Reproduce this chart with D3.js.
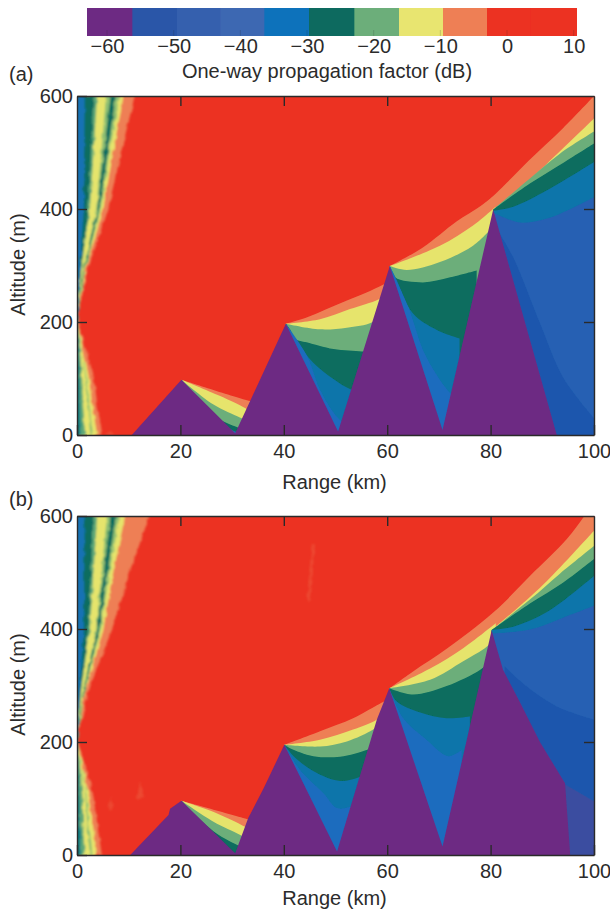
<!DOCTYPE html>
<html><head><meta charset="utf-8">
<script src="https://cdnjs.cloudflare.com/ajax/libs/d3/7.8.5/d3.min.js"></script>
<style>
html,body{margin:0;padding:0;background:#fff}
svg{display:block}
text{font-family:"Liberation Sans",Arial,sans-serif;fill:#2b2b2b}
</style></head><body>
<script>
// ---- colour bar data (dB)
const barEdges=[-63,-56.2,-49.5,-43,-36.4,-29.7,-22.9,-16.2,-9.6,-3,3.5,10.5];
const barTicks=[-60,-50,-40,-30,-20,-10,0,10];
// ---- axis ticks
const rangeTicks=[0,20,40,60,80,100];
const altTicks=[0,200,400,600];

// ---- terrain ridges [range km, altitude m]
const ridgeA=[[10.6,0],[20.2,98],[30.6,3],[40.4,197],[50.5,6],[60.5,299],[70.7,9],[80.5,399],[92.8,0],[100,0]];
const ridgeB=[[10.3,0],[17.7,71],[18,82],[20.2,96],[30.6,3],[33.1,65],[36.1,118],[40.1,195],[50.3,6],[58,240],[60.4,295],[70.7,15],[80.2,398],[82.4,328],[85.7,270],[89.6,199],[94.4,127],[95.4,0],[100,0]];

// ---- contours panel (a)
const zoneA20=[
 [[20.2,98],[33.5,60],[36,55]],
 [[20.2,98],[27.7,69],[32.5,48],[34,40]],
 [[20.2,98],[26.4,54],[31.5,31],[33,25]],
 [[20.2,98],[22.2,75],[27,31],[30.9,14],[32,10]],
 [[20.2,98],[24.4,48],[30.6,6],[31.5,3]]];
const zoneA40=[
 [[40.4,197],[44.4,208],[48.3,223],[52.2,238],[56,252],[59,265],[61,272]],
 [[40.4,197],[47,205],[52.8,223],[58.3,240],[60,250]],
 [[40.4,197],[47,187],[52.2,190],[57,199],[59,215]],
 [[40.4,197],[41.2,187],[42.2,170],[44.4,164],[49.6,152],[55.1,148],[57,148]],
 [[40.4,197],[42.2,170],[45.7,128],[49.6,99],[52.9,81],[55,78]],
 [[40.4,197],[44.5,140],[47,80],[50,35],[53,10]]];
const redEdgeA=[[60.5,299],[66.9,332],[73.4,378],[78,405],[80.5,423],[87.3,485],[94,543],[100,600]];
const zoneA60=[
 [[60.5,299],[70.2,335],[76.6,371],[80.2,398],[81,404]],
 [[60.5,299],[63.8,292],[70.2,306],[76.6,335],[79.6,360]],
 [[60.5,299],[61.5,279],[66.9,270],[72.2,279],[77.3,291]],
 [[60.5,299],[61.5,281],[65,215],[69.6,186],[74,171]],
 [[60.5,299],[64.1,226],[67.3,143],[71.8,78],[74,60]]];
const zoneA80=[
 [[80.5,399],[85.7,437],[90.9,480],[100,560]],
 [[80.5,399],[87.6,454],[93.4,498],[100,537]],
 [[80.5,399],[87.6,445],[94.1,482],[100,516]],
 [[80.5,397],[84.4,404],[90.9,433],[100,483]],
 [[80.5,394],[85.7,376],[90.9,383],[94.7,397],[100,421]],
 [[81.5,360],[84.4,314],[89.6,197],[94.1,101],[100,30]]];

// ---- contours panel (b)
const zoneB20=[
 [[20.2,96],[33.5,62],[36,55]],
 [[20.2,96],[27,74],[32.5,50],[34,42]],
 [[20.2,96],[26.4,59],[31.5,36],[33,28]],
 [[20.2,96],[22.2,77],[27,38],[30.9,18],[32,14]],
 [[20.2,96],[24.4,47],[30,5],[31,3]]];
const zoneB40=[
 [[40.1,195],[47,219],[53.4,242],[58,265],[60,275]],
 [[40.1,195],[47,204],[53.4,222],[58,240],[59.5,255]],
 [[40.1,195],[47,192],[52.2,201],[57.3,222],[59,235]],
 [[40.1,195],[41.2,189],[45.7,175],[50.9,174],[56,186],[57,190]],
 [[40.1,195],[42.2,172],[46.4,145],[50.9,131],[54.4,137],[56,145]],
 [[40.1,195],[43.1,151],[47.7,109],[50.3,83],[53.2,86],[55,90]]];
const redEdgeB=[[60.4,295],[65,325],[71.5,365],[80.5,429],[87.6,494],[94.7,559],[98.2,601],[100,625]];
const zoneB60=[
 [[60.4,295],[68.3,330],[74.7,366],[79.9,402],[81,410]],
 [[60.4,295],[68.3,310],[74.7,343],[78.6,364],[80,375]],
 [[60.4,295],[65,284],[71.5,299],[78,328],[79.5,340]],
 [[60.4,295],[61.8,272],[66.4,252],[71.5,242],[76,245]],
 [[60.4,295],[63.1,242],[67.6,204],[71.8,175],[74.4,186]]];
const zoneB80=[
 [[80.2,398],[85.7,441],[90.9,485],[100,574]],
 [[80.2,398],[87.6,452],[93.4,498],[100,547]],
 [[80.2,398],[87.6,445],[94,482],[100,524]],
 [[80.2,398],[84.4,404],[90.9,430],[100,494]],
 [[80.2,392],[87.6,399],[94,420],[100,441]],
 [[82.7,334],[86.9,299],[92.8,263],[100,240]],
 [[94,127],[100,95]]];

// ---- near-field interference fringes, listed outermost first
const fringeTopA=[
 [[0,205],[2,290],[6.05,400],[8.5,500],[11.2,600]],
 [[0,205],[1.6,290],[5.1,400],[7,500],[9,600]],
 [[0,205],[1.45,290],[4.6,400],[6.3,500],[8.2,600]],
 [[0,205],[1.35,290],[4.3,400],[5.9,500],[7.5,600]],
 [[0,205],[1.2,290],[3.95,400],[5.2,500],[6.5,600]],
 [[0,205],[1.1,290],[3.7,400],[4.7,500],[5.6,600]],
 [[0,205],[.8,290],[2.5,400],[3.2,500],[3.9,600]],
 [[0,205],[.7,290],[2.2,400],[2.7,500],[3.2,600]],
 [[0,205],[.5,290],[1.35,400],[1.4,500],[1.5,600]]];
const fringeLowA=[
 [[0,205],[1.6,155],[3.15,108],[4,50],[4.9,0]],
 [[0,205],[1.1,155],[2.2,108],[3,50],[3.9,0]],
 [[0,205],[.9,155],[1.75,108],[2.4,50],[3.1,0]],
 [[0,205],[.8,155],[1.55,108],[2,50],[2.6,0]],
 [[0,205],[.5,155],[.95,108],[1.2,50],[1.6,0]],
 [[0,205],[.2,155],[.45,108],[.6,50],[.7,0]]];
const fringeTopB=[
 [[0,205],[2.2,290],[6.8,400],[10.2,500],[14,600]],
 [[0,205],[1.6,290],[5.1,400],[7,500],[9.3,600]],
 [[0,205],[1.45,290],[4.6,400],[6.3,500],[8.2,600]],
 [[0,205],[1.35,290],[4.3,400],[5.9,500],[7.5,600]],
 [[0,205],[1.2,290],[3.95,400],[5.2,500],[6.5,600]],
 [[0,205],[1.1,290],[3.7,400],[4.7,500],[5.8,600]],
 [[0,205],[.8,290],[2.5,400],[3.2,500],[3.9,600]],
 [[0,205],[.7,290],[2.2,400],[2.7,500],[3.2,600]],
 [[0,205],[.5,290],[1.35,400],[1.4,500],[1.5,600]]];
const fringeLowB=[
 [[0,205],[1.7,155],[3.1,108],[4,50],[4.8,0]],
 [[0,205],[1.2,155],[2.2,108],[3.1,50],[3.9,0]],
 [[0,205],[.95,155],[1.8,108],[2.4,50],[3,0]],
 [[0,205],[.85,155],[1.6,108],[2,50],[2.5,0]],
 [[0,205],[.6,155],[1.05,108],[1.2,50],[1.5,0]],
 [[0,205],[.2,155],[.45,108],[.6,50],[.7,0]]];
// ---- small lighter patches inside the red region
const flecksA=[[[5.6,0],[6.4,8],[7.3,0]]];
const flecksB=[[[6,80],[6.6,105],[7,80]],[[11.6,100],[12.2,130],[12.9,100]],[[44.5,450],[45.4,550],[46,550],[45.2,450]]];

// ---- colours
const PURPLE='#6d2a83',RED='#ec3023';
const barColors=[PURPLE,'#2a56a8','#3460ae','#3e67b2','#1172bb','#076b5f','#6cae7a','#e8e56f','#ee7f55',RED,RED];
const bandFills=['#ee7f55','#e6e46c','#6cae7a','#076d5e','#0c74aa','#1d6cbe','#2561b3','#1e57ad','#3a4ea0'];
const fringeFills=['#ee7f55','#e6e46c','#8fbf72','#076d5e','#8fbf72','#e6e46c','#5fa878','#076d5e','#1272b4'];
const fringeLowFills=['#ee7f55','#e6e46c','#8fbf72','#e6e46c','#5fa878','#0c7a80'];

const W=610,H=912,FS=20;
const svg=d3.select('body').append('svg').attr('width',W).attr('height',H);
const defs=svg.append('defs');
const soft=defs.append('filter').attr('id','soft').attr('x','-2%').attr('y','-2%').attr('width','104%').attr('height','104%');
soft.append('feGaussianBlur').attr('stdDeviation',0.6);
const rough=defs.append('filter').attr('id','rough').attr('x','-5%').attr('y','-5%').attr('width','110%').attr('height','110%');
rough.append('feTurbulence').attr('type','fractalNoise').attr('baseFrequency','0.22 0.14').attr('numOctaves',2).attr('seed',4).attr('result','n');
rough.append('feDisplacementMap').attr('in','SourceGraphic').attr('in2','n').attr('scale',4).attr('xChannelSelector','R').attr('yChannelSelector','G');
rough.append('feGaussianBlur').attr('stdDeviation',1);

// ---- colour bar
const barX=d3.scaleLinear().domain([-63,10.5]).range([87,577]);
const barBins=d3.pairs(barEdges);
svg.append('g').attr('filter','url(#soft)').selectAll('rect').data(barBins).join('rect')
  .attr('x',d=>barX(d[0])).attr('width',(d,i)=>barX(d[1])-barX(d[0])+(i<barBins.length-1?1:0))
  .attr('y',8).attr('height',28).attr('fill',(d,i)=>barColors[i]);
const barAxis=svg.append('g').attr('transform','translate(0,36)')
  .call(d3.axisBottom(barX).tickValues(barTicks).tickSize(0).tickPadding(3).tickFormat(d=>String(d).replace('-','\u2212')));
barAxis.select('.domain').remove();
barAxis.selectAll('text').attr('font-size',FS).attr('dy','0.71em').style('font-family','"Liberation Sans",Arial,sans-serif').attr('fill','#2b2b2b');
svg.append('g').selectAll('line').data(barTicks).join('line')
  .attr('x1',d=>barX(d)).attr('x2',d=>barX(d)).attr('y1',30).attr('y2',36)
  .attr('stroke','#222').attr('stroke-opacity',.18);
svg.append('text').attr('x',327).attr('y',78).attr('text-anchor','middle').attr('font-size',FS).text('One-way propagation factor (dB)');

function panel(cfg,idx){
  const x=d3.scaleLinear().domain([0,100]).range([77,594]);
  const y=d3.scaleLinear().domain([0,600]).range([cfg.bottom,cfg.bottom-339]);
  const g=svg.append('g');
  const id='clip'+idx;
  defs.append('clipPath').attr('id',id).append('rect')
    .attr('x',x(0)).attr('y',y(600)).attr('width',x(100)-x(0)+1).attr('height',y(0)-y(600));
  const plot=g.append('g').attr('clip-path',`url(#${id})`);
  const img=plot.append('g').attr('filter','url(#soft)');
  img.append('rect').attr('x',x(0)).attr('y',y(600)-2).attr('width',x(100)-x(0)+2).attr('height',y(0)-y(600)+4).attr('fill',RED);
  const area=c=>d3.area().x(d=>x(d[0])).y0(y(-5)).y1(d=>y(d[1])).curve(c);
  const smooth=d3.curveCatmullRom.alpha(0.5);
  const paint=(contours,idxs)=>contours.forEach((c,i)=>{
    img.append('path').datum(c).attr('d',area(smooth)).attr('fill',bandFills[idxs[i]]);
  });
  paint(cfg.z20,[0,1,2,3,5]);
  paint(cfg.z40,[0,1,2,3,4,5]);
  paint([cfg.redEdge],[0]);
  paint(cfg.z60,[1,2,3,4,5]);
  paint(cfg.z80,cfg.z80Fills);
  img.append('path').datum(cfg.ridge).attr('d',area(d3.curveLinear)).attr('fill',PURPLE);
  const poly=d3.line().x(d=>x(d[0])).y(d=>y(d[1]));
  // fringes
  const fr=plot.append('g').attr('filter','url(#rough)');
  cfg.flecks.forEach(f=>{
    fr.append('path').datum(f).attr('d',p=>poly(p)+'Z').attr('fill','#ee7f55').attr('fill-opacity',.3);
  });
  cfg.fTop.forEach((b,i)=>{
    fr.append('path').datum([...b,[-3,b[b.length-1][1]+10],[-3,205]]).attr('d',p=>poly(p)+'Z').attr('fill',fringeFills[i]);
  });
  cfg.fLow.forEach((b,i)=>{
    fr.append('path').datum([...b,[-3,-10],[-3,205]]).attr('d',p=>poly(p)+'Z').attr('fill',fringeLowFills[i]);
  });
  // axes with inward ticks
  const style=s=>{s.selectAll('path,line').attr('stroke','#2a2a2a').attr('stroke-width',1.4);
    s.selectAll('text').attr('font-size',FS).attr('fill','#2b2b2b').style('font-family','"Liberation Sans",Arial,sans-serif');};
  g.append('g').attr('transform',`translate(0,${y(0)})`)
    .call(d3.axisBottom(x).tickValues(rangeTicks).tickSizeInner(-10).tickSizeOuter(0).tickPadding(8)).call(style)
    .selectAll('text').attr('dy','0.75em');
  g.append('g').attr('transform',`translate(0,${y(600)})`)
    .call(d3.axisTop(x).tickValues(rangeTicks.slice(1,-1)).tickSizeInner(-10).tickSizeOuter(0).tickFormat('')).call(style);
  g.append('g').attr('transform',`translate(${x(0)},0)`)
    .call(d3.axisLeft(y).tickValues(altTicks).tickSizeInner(-10).tickSizeOuter(0).tickPadding(4)).call(style);
  g.append('g').attr('transform',`translate(${x(100)},0)`)
    .call(d3.axisRight(y).tickValues(altTicks.slice(1,-1)).tickSizeInner(-10).tickSizeOuter(0).tickFormat('')).call(style);
  g.append('text').attr('x',(x(0)+x(100))/2-1).attr('y',cfg.rangeLabelY).attr('text-anchor','middle').attr('font-size',FS).text('Range (km)');
  g.append('text').attr('transform',`translate(25,${(y(0)+y(600))/2-1}) rotate(-90)`).attr('text-anchor','middle').attr('font-size',FS).text('Altitude (m)');
  g.append('text').attr('x',9).attr('y',cfg.labelY).attr('font-size',FS).text(cfg.label);
}
panel({bottom:435,label:'(a)',labelY:81,rangeLabelY:489,ridge:ridgeA,z20:zoneA20,redEdge:redEdgeA,z40:zoneA40,z60:zoneA60,z80:zoneA80,z80Fills:[1,2,3,4,6,7],fTop:fringeTopA,fLow:fringeLowA,flecks:flecksA},0);
panel({bottom:855,label:'(b)',labelY:506,rangeLabelY:905,ridge:ridgeB,z20:zoneB20,redEdge:redEdgeB,z40:zoneB40,z60:zoneB60,z80:zoneB80,z80Fills:[1,2,3,4,6,7,8],fTop:fringeTopB,fLow:fringeLowB,flecks:flecksB},1);
</script></body></html>
